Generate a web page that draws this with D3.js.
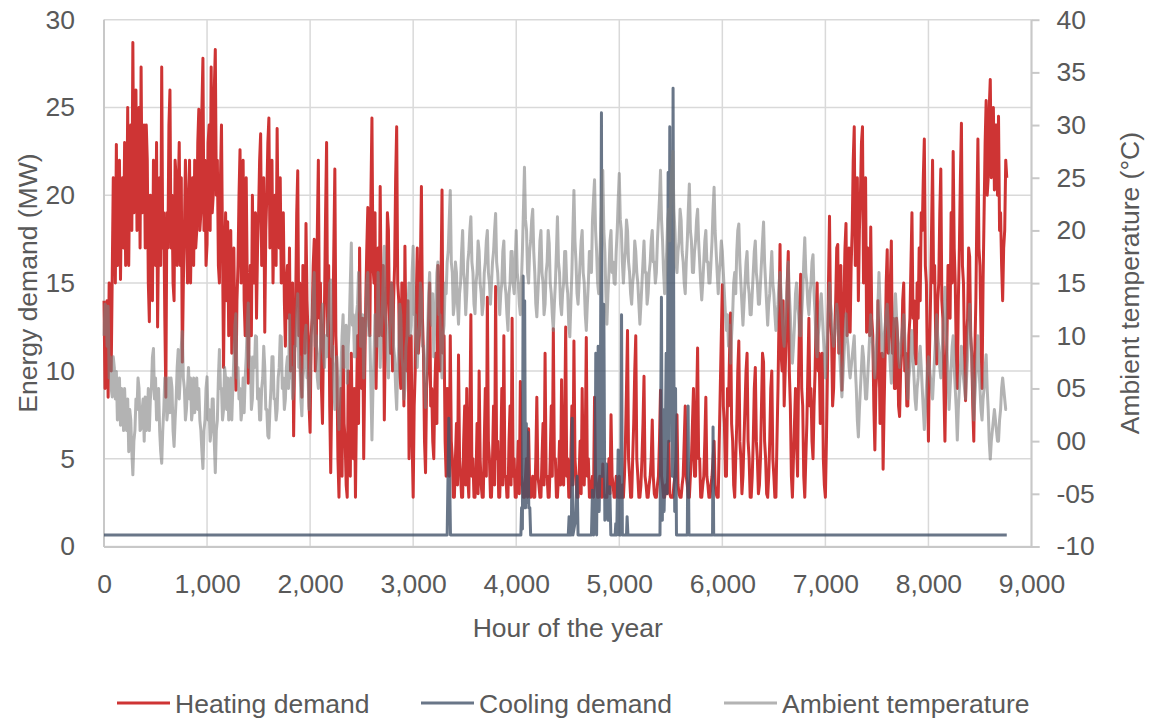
<!DOCTYPE html>
<html><head><meta charset="utf-8">
<script src="https://cdn.jsdelivr.net/npm/d3@7"></script>
<style>
body{margin:0;background:#fff;}
text{font-family:"Liberation Sans",Arial,sans-serif;fill:#595959;}
</style>
</head><body>
<svg id="chart" width="1150" height="720"></svg>
<script>
// ---- data ----
const hourStep = 10; // heating & temperature sampled every 10 h, from hour 0 to 8760 (one line = 200 h)
const heatingDemand = [
  14, 9, 11, 14, 8.5, 15, 13, 10, 15.5, 21, 20, 15, 22.9, 16, 17, 22, 15.2, 20, 21, 17,
  23, 16, 18, 25, 16, 22, 24, 18, 28.7, 19, 21, 26, 18, 23, 25, 17, 27.3, 19, 20, 24,
  17, 24, 22, 15, 12.8, 20, 19, 14, 22, 18, 16, 23, 12.5, 18, 21, 16, 27.3, 17, 19, 13,
  8.5, 19, 17, 24, 26, 17, 20, 15, 14, 22, 21, 16, 20, 23, 16, 21, 10.5, 15, 18, 22,
  20, 15, 16, 22, 15, 19, 21, 16, 22, 17, 18, 23, 24.9, 18, 19, 25, 27.8, 18, 22, 16,
  17.2, 23, 24, 18, 27.3, 19, 20, 26, 28.3, 20, 22, 16, 15, 21, 24, 17, 10.2, 16, 19, 14,
  18.5, 12, 14, 18, 11, 16, 17, 12, 8.9, 14, 16, 20, 22.6, 15, 17, 22, 14, 12, 21, 15,
  9.3, 14, 16, 12, 20, 15, 15, 19, 13, 17, 19, 22, 23.5, 16, 17, 21, 12.2, 18, 20, 23,
  24.4, 17, 18, 22, 15, 19, 20, 16, 23.8, 18, 17, 21, 15, 18, 19, 14, 11.4, 15, 16, 13,
  17, 10, 12, 15, 6.3, 11, 14, 19, 21.4, 12, 15, 10, 8.5, 16, 15, 11, 18.4, 14, 12, 8,
  6.5, 12, 13, 16, 17.5, 10, 11, 18, 22, 13, 15, 9, 7, 12, 14, 19, 23, 12, 16, 8,
  4.2, 9, 12, 17, 21.5, 12, 10, 5, 2.8, 7, 9, 4, 11.4, 7, 6, 3.5, 2.8, 10, 8, 4,
  11, 6, 5, 9, 2.8, 8, 12, 7, 17, 11, 9, 13, 5, 10, 14, 17, 19.3, 13, 12, 20,
  24.4, 16, 15, 19, 9, 13, 17, 12, 20.5, 14, 12, 16, 7.2, 12, 14, 19, 18, 13, 11, 15,
  10, 14, 16, 21, 23.9, 15, 14, 10, 9, 15, 13, 8, 17.1, 12, 10, 14, 5, 9, 12, 6,
  2.8, 8, 10, 14, 17, 11, 12, 16, 20.5, 13, 11, 6, 4.2, 9, 10, 13, 15, 8, 9, 6,
  5, 9, 11, 7, 16, 12, 10, 15, 20.3, 11, 12, 6, 4, 9, 8, 4, 12, 6, 5, 2.8,
  2.8, 5, 7, 3.5, 10.9, 5, 4, 2.8, 2.8, 6, 8, 3.5, 9, 4, 2.8, 7, 13.2, 4, 5, 2.8,
  2.8, 4, 7, 3, 10, 5, 3.5, 2.8, 2.8, 6, 9, 4, 14.2, 6, 5, 2.8, 2.8, 5, 8, 3.5,
  14.8, 5, 6, 2.8, 2.8, 5, 9, 3.5, 12, 4, 4, 2.8, 2.8, 6, 8, 3.5, 13, 4, 5, 2.8,
  2.8, 4, 6, 3, 9.4, 4, 3.5, 2.8, 2.8, 4, 5, 2.8, 6.7, 3.5, 2.8, 3.5, 4, 2.8, 2.8, 5,
  8.5, 4, 3.5, 2.8, 2.8, 5, 7, 3.5, 11, 4, 4, 2.8, 2.8, 5, 8, 4, 12.4, 5, 5, 2.8,
  2.8, 4, 6, 3.5, 9.5, 4, 3.5, 7, 12.5, 4, 5, 2.8, 2.8, 5, 8, 3.5, 11.7, 5, 4, 2.8,
  2.8, 4, 6, 3, 9, 4, 3.5, 6, 11.9, 4, 5, 2.8, 2.8, 3.5, 4, 2.8, 8.5, 4, 3.5, 2.8,
  2.8, 4, 3.5, 2.8, 4.7, 3, 2.8, 2.8, 2.8, 4, 5, 3, 7.5, 4, 3.5, 2.8, 2.8, 4, 3, 2.8,
  4, 2.8, 2.8, 3.5, 2.8, 4, 6, 9, 12.3, 5, 4, 2.8, 2.8, 5, 7, 10, 12, 5, 4, 2.8,
  2.8, 3.5, 5, 7, 9.7, 4, 3.5, 2.8, 2.8, 3.5, 4, 5, 7.2, 4, 3, 2.8, 2.8, 3.5, 4, 6,
  8.9, 4, 3.5, 2.8, 2.8, 3.5, 3, 4, 6, 3, 2.8, 2.8, 2.8, 3.5, 4, 5, 7.5, 3.5, 3, 2.8,
  2.8, 3.5, 4, 6, 8, 4, 3.5, 2.8, 2.8, 4, 5, 7, 9, 4, 4, 8, 11.3, 5, 5, 2.8,
  2.8, 3.5, 4, 6, 8.5, 4, 3.5, 2.8, 2.8, 3.5, 4, 5, 6, 3.5, 3, 2.8, 2.8, 6, 9, 12,
  14.9, 8, 7, 4, 4, 9, 8, 11, 13.3, 7, 6, 3.5, 2.8, 5, 7, 10, 11.7, 6, 5, 3,
  4, 6, 8, 10, 11, 6, 5, 2.8, 2.8, 4, 6, 9, 10.2, 6, 5, 3, 3.5, 5, 8, 11,
  10.5, 6, 5, 3, 2.8, 4, 6, 9, 10, 5, 4, 2.8, 2.8, 6, 9, 13, 17.2, 11, 10, 14,
  8, 10, 12, 15, 16.8, 10, 8, 4, 2.8, 5, 7, 9, 6, 4, 10, 13, 15.5, 9, 8, 4,
  2.8, 5, 7, 10, 13, 8, 9, 6, 5, 8, 10, 13, 15, 10, 11, 7, 8, 11, 5, 3.5,
  2.8, 6, 10, 15, 18.8, 13, 12, 8, 9, 12, 14, 17, 17.2, 11, 12, 16, 8.9, 12, 14, 17,
  18.4, 12, 13, 17, 12.2, 16, 18, 22, 23.9, 16, 17, 21, 14, 18, 20, 23, 23.9, 15, 17, 21,
  12.2, 17, 16, 12, 18.2, 13, 12, 8, 5.5, 9, 10, 14, 12, 7, 8, 11, 4.4, 8, 11, 15,
  16.9, 11, 12, 15, 17.4, 11, 13, 9, 9, 13, 12, 8, 7.4, 10, 11, 14, 15, 10, 11, 8,
  8, 12, 13, 16, 19, 13, 14, 11, 10.4, 15, 13, 17, 14, 19, 18, 21, 23.2, 16, 15, 10,
  6, 11, 14, 18, 22, 15, 16, 12, 10.4, 14, 15, 19, 21.5, 14, 13, 9, 6, 10, 12, 16,
  16, 13, 19, 15, 22.5, 17, 15, 11, 9, 14, 17, 21, 24.1, 16, 15, 11, 8.3, 12, 13, 17,
  16.5, 12, 11, 8, 6, 11, 14, 19, 23.2, 17, 16, 12, 9, 15, 19, 23, 25.4, 20, 21, 25,
  26.6, 21, 22, 25, 20.3, 24, 24, 20, 24.5, 18, 19, 16, 14, 17, 18, 22, 21
];
const ambientTemperature = [
  10, 13, 12.8, 9, 12.8, 6, 8, 5, 4.2, 8, 7, 4, 6.6, 2, 3, 6, 1.5, 5, 4, 1,
  5, 2, 1, 4, -1, 3, 2, -1, -3.2, 0, 1, 4, 3, 6, 5, 1, 1.2, 3, 4, 0,
  4.2, 1, 2, 5, 1, 4, 5, 8, 8.8, 4, 6, 2, 3, 5, 1, -1, -2.1, 1, 3, 6,
  6, 2, 3, 6, 2.7, 6, 5, 1, -0.5, 2, 4, 7, 8.7, 4, 6, 9, 10.4, 6, 5, 2,
  3, 5, 7, 4, 6, 2, 3, 6, 2.7, 5, 6, 3, 5, 2, 1, -1, -2.6, 1, 2, 5,
  6.1, 2, 3, 0, 1, 4, 4, 0, -3, 1, 2, 6, 8.7, 5, 5, 2, 3, 7, 6, 3,
  6, 2, 3, 6, 2, 5, 8, 11, 12.1, 6, 7, 4, 5, 2, 3, 6, 2.7, 6, 8, 11,
  13.1, 7, 8, 3, 4, 8, 7, 10, 9.9, 4, 5, 2, 2, 5, 6, 9, 7, 3, 3, 0.5,
  0.3, 3, 5, 8, 8, 4, 4, 2, 3, 6, 7, 10, 9.9, 5, 6, 3, 4, 7, 8, 5,
  12, 6, 7, 4, 5, 9, 9, 12, 14, 7, 8, 4, 2.4, 6, 7, 10, 11, 6, 6, 3,
  6, 9, 11, 14, 16, 9, 10, 6, 5, 8, 9, 12, 13, 8, 7, 10, 8, 11, 12, 15,
  15.3, 8, 9, 5, 3, 7, 8, 4, 1.1, 5, 7, 10, 12, 7, 8, 11, 5.5, 9, 11, 15,
  18.8, 11, 12, 8, 8, 12, 13, 16, 14, 9, 9, 12, 6, 10, 11, 15, 16, 10, 10, 5,
  0.1, 5, 8, 12, 12, 9, 16, 11, 7, 10, 12, 16, 18.5, 12, 11, 8, 6, 10, 12, 15,
  14, 9, 8, 5, 3, 7, 9, 13, 12, 8, 7, 4, 5, 9, 10, 13, 15, 10, 11, 16,
  18.5, 12, 12, 9, 7, 10, 11, 15, 14, 9, 9, 6, 3.2, 7, 10, 14, 16, 12, 11, 14,
  8, 11, 13, 16, 17, 12, 12, 8, 6, 10, 11, 15, 14, 17, 18, 21, 23.8, 17, 16, 12,
  13, 17, 16, 13, 11.1, 14, 15, 18, 20, 16, 15, 12, 14, 17, 18, 20, 21.3, 17, 16, 13,
  12.1, 15, 16, 19, 18, 15, 14, 12, 13, 16, 17, 19, 20, 16, 15, 13, 15, 17, 18, 20,
  21.6, 17, 16, 14, 12, 14, 15, 18, 19, 15, 14, 12, 10.5, 14, 15, 18, 18, 15, 14, 17,
  20, 16, 15, 13, 12, 15, 18, 22, 26, 21, 20, 16, 15, 18, 19, 21, 22, 18, 16, 13,
  11.8, 14, 16, 19, 20, 16, 15, 12, 13, 16, 17, 20, 18.8, 15, 14, 12, 10.5, 13, 15, 18,
  21.3, 17, 16, 13, 12, 14, 15, 18, 18, 15, 14, 11, 9.9, 13, 16, 20, 23.8, 19, 17, 14,
  13, 15, 17, 19, 20, 16, 15, 12, 10.5, 13, 15, 18, 18, 16, 21, 23, 24.8, 20, 18, 15,
  14, 17, 20, 23, 25.7, 20, 18, 14, 11.1, 14, 16, 19, 20, 16, 17, 15, 14.9, 18, 20, 23,
  25.4, 21, 20, 17, 15, 17, 18, 21, 20, 17, 16, 14, 13, 15, 16, 19, 18, 16, 15, 13,
  11.1, 13, 15, 17, 19, 16, 16, 13, 14, 16, 17, 19, 20, 17, 17, 15, 16, 19, 21, 23,
  25.7, 21, 19, 16, 14, 16, 18, 21, 22, 19, 24, 26, 27.5, 22, 20, 17, 16, 18, 19, 22,
  21, 18, 17, 15, 14, 17, 19, 22, 24.4, 20, 19, 16, 16, 18, 19, 21, 22, 19, 17, 15,
  13.4, 15, 17, 19, 20, 17, 17, 15, 15, 17, 19, 22, 24.1, 20, 18, 16, 14, 16, 17, 19,
  18, 16, 14, 12, 10.5, 12, 9, 11, 7.4, 10, 12, 15, 16, 14, 18, 20, 20.6, 17, 15, 13,
  11, 13, 15, 17, 18, 15, 14, 12, 12, 14, 16, 18, 19, 16, 15, 13, 13, 15, 17, 19,
  20.8, 17, 15, 13, 11, 13, 14, 16, 18, 15, 14, 12, 10.5, 12, 13, 15, 16, 14, 12, 10,
  9, 11, 13, 15, 17, 14, 12, 9, 7.4, 9, 11, 14, 15, 13, 12, 10, 10, 12, 14, 17,
  19.3, 16, 15, 13, 12, 14, 15, 17, 17.7, 14, 12, 9, 8, 10, 11, 13, 14, 12, 10, 8,
  6, 8, 10, 13, 15, 13, 12, 10, 9, 10, 11, 13, 12, 10, 8, 6, 4.2, 6, 8, 10,
  12.1, 10, 9, 7, 6, 7, 8, 9, 10, 7, 5, 2, 0.4, 3, 5, 7, 9, 8, 6, 4,
  4, 6, 8, 10, 12, 10, 9, 7, 6, 8, 10, 13, 16, 13, 11, 9, 8, 10, 11, 12,
  13, 11, 9, 7, 5.5, 8, 10, 12, 14, 12, 10, 8, 7, 9, 10, 11, 12, 10, 8, 6,
  4, 6, 7, 9, 10.5, 8, 6, 4, 3, 5, 6, 8, 9, 7, 5, 3, 1.1, 3, 5, 7,
  8, 7, 6, 5, 4, 6, 8, 10, 12, 10, 9, 7, 6, 8, 10, 12, 14.6, 11, 9, 6,
  3, 5, 7, 9, 10, 7, 5, 3, 0.1, 3, 5, 7, 9, 7, 6, 5, 4, 6, 8, 11,
  13, 10, 8, 5, 2, 4, 6, 8, 10, 7, 5, 3, 2, 4, 5, 7, 8.2, 5, 3, 0,
  -1.7, 0, 1, 2, 3, 2, 1, 0, 0, 2, 3, 5, 6, 5, 4, 3, 3
];
const coolingHours = [
  0, 3330, 3346, 3362,
  4045, 4052, 4060, 4067, 4074, 4082, 4090, 4098, 4106, 4114, 4122, 4132, 4140,
  4505, 4513, 4520, 4535, 4543, 4550, 4575, 4591, 4600,
  4730, 4740, 4750, 4765, 4772, 4780, 4795, 4805, 4815, 4827, 4835, 4850, 4860, 4876, 4890, 4908, 4918,
  4960, 4966, 4975, 4989, 4998, 5015, 5022, 5030, 5070, 5076, 5084,
  5395, 5409, 5418, 5425, 5435, 5445, 5455, 5465, 5474, 5482, 5490, 5498, 5506, 5514, 5522, 5530, 5538, 5546, 5555,
  5660, 5668, 5676,
  5905, 5910, 5916,
  8760
];
const coolingDemand = [
  0.65, 0.65, 7.3, 0.65,
  0.65, 2.2, 1.0, 15.4, 2.2, 14.0, 2.2, 7, 2.5, 6.5, 2.2, 2.2, 0.65,
  0.65, 1.7, 0.65, 0.65, 7.3, 0.65, 1.5, 4.0, 0.65,
  0.65, 3.2, 0.65, 2, 11.0, 0.65, 11.4, 2, 6, 24.7, 4, 13.8, 1.5, 4.7, 1.5, 3.4, 0.65,
  0.65, 1.3, 0.65, 5.5, 0.65, 0.65, 13.2, 0.65, 0.65, 1.7, 0.65,
  0.65, 14.2, 1.5, 7.8, 2, 5, 11, 3, 21.3, 6, 23.9, 8, 15, 4, 26.1, 10, 2, 9, 0.65,
  0.65, 8.0, 0.65,
  0.65, 6.8, 0.65,
  0.65
];
const xTicks = [0, 1000, 2000, 3000, 4000, 5000, 6000, 7000, 8000, 9000];
const yLeftTicks = [0, 5, 10, 15, 20, 25, 30];
const yRightTicks = [-10, -5, 0, 5, 10, 15, 20, 25, 30, 35, 40];
const seriesNames = ["Heating demand", "Cooling demand", "Ambient temperature"];
const axisTitles = {x: "Hour of the year", yLeft: "Energy demand (MW)", yRight: "Ambient temperature (°C)"};

// ---- drawing ----
const svg = d3.select("#chart");
const L = 104, R = 1031.5, T = 19.7, B = 546.5;
const FS = 26.5;
const FF = "Liberation Sans, Arial, sans-serif";
const SW = 3;
const x = d3.scaleLinear().domain([0, 9000]).range([L, R]);
const yL = d3.scaleLinear().domain([0, 30]).range([B, T]);
const yR = d3.scaleLinear().domain([-10, 40]).range([B, T]);

const colHeat = "#ce3434", colCool = "#44546a", colTemp = "#808080";

// gridlines
const g = svg.append("g");
g.selectAll(".hg").data(yLeftTicks).join("line")
  .attr("x1", L).attr("x2", R).attr("y1", d => yL(d)).attr("y2", d => yL(d))
  .attr("stroke", "#d9d9d9").attr("stroke-width", 1.5);
g.selectAll(".vg").data(xTicks).join("line")
  .attr("x1", d => x(d)).attr("x2", d => x(d)).attr("y1", T).attr("y2", B)
  .attr("stroke", "#d9d9d9").attr("stroke-width", 1.5);

// axes lines
svg.append("line").attr("x1", L).attr("x2", L).attr("y1", T).attr("y2", B + 0.5)
  .attr("stroke", "#c8c8c8").attr("stroke-width", 2);
svg.append("line").attr("x1", L).attr("x2", R + 8).attr("y1", B + 0.5).attr("y2", B + 0.5)
  .attr("stroke", "#c8c8c8").attr("stroke-width", 2);

// right axis
const pad2 = v => (v < 0 ? "-" : "") + String(Math.abs(v)).padStart(2, "0");
const rAxis = svg.append("g").attr("transform", `translate(${R},0)`)
  .call(d3.axisRight(yR).tickValues(yRightTicks).tickFormat(pad2).tickSize(8).tickPadding(17));
rAxis.select(".domain").attr("stroke", "#c8c8c8").attr("stroke-width", 2).attr("d", `M0,${T}V${B + 0.5}`);
rAxis.selectAll(".tick line").attr("stroke", "#c8c8c8").attr("stroke-width", 2);
rAxis.selectAll(".tick text").attr("font-size", FS).attr("fill", "#595959").attr("font-family", FF);

// left axis
const lAxis = svg.append("g").attr("transform", `translate(${L},0)`)
  .call(d3.axisLeft(yL).tickValues(yLeftTicks).tickSize(0).tickPadding(29));
lAxis.select(".domain").remove();
lAxis.selectAll(".tick text").attr("font-size", FS).attr("fill", "#595959").attr("font-family", FF);

// bottom axis
const bAxis = svg.append("g").attr("transform", `translate(0,${B})`)
  .call(d3.axisBottom(x).tickValues(xTicks).tickFormat(d3.format(",")).tickSize(0).tickPadding(28));
bAxis.select(".domain").remove();
bAxis.selectAll(".tick text").attr("font-size", FS).attr("fill", "#595959").attr("font-family", FF);

// series
const heatPts = heatingDemand.map((v, i) => [i * hourStep, v]);
const tempPts = ambientTemperature.map((v, i) => [i * hourStep, v]);
const coolPts = coolingHours.map((h, i) => [h, coolingDemand[i]]);

const lineL = d3.line().x(d => x(d[0])).y(d => yL(d[1]));
const lineR = d3.line().x(d => x(d[0])).y(d => yR(d[1]));

svg.append("path").datum(heatPts).attr("d", lineL).attr("fill", "none")
  .attr("stroke", colHeat).attr("stroke-width", SW).attr("stroke-linejoin", "round");
svg.append("path").datum(coolPts).attr("d", lineL).attr("fill", "none")
  .attr("stroke", colCool).attr("stroke-opacity", 0.8).attr("stroke-width", SW).attr("stroke-linejoin", "round");
svg.append("path").datum(tempPts).attr("d", lineR).attr("fill", "none")
  .attr("stroke", colTemp).attr("stroke-opacity", 0.6).attr("stroke-width", SW).attr("stroke-linejoin", "round");

// axis titles
svg.append("text").attr("x", (L + R) / 2).attr("y", 637).attr("text-anchor", "middle")
  .attr("font-size", FS).text(axisTitles.x);
svg.append("text").attr("transform", `translate(37,${(T + B) / 2}) rotate(-90)`).attr("text-anchor", "middle")
  .attr("font-size", FS).text(axisTitles.yLeft);
svg.append("text").attr("transform", `translate(1139,${(T + B) / 2}) rotate(-90)`).attr("text-anchor", "middle")
  .attr("font-size", FS).text(axisTitles.yRight);

// legend
const legendX = [117, 421, 724];
const legendColors = [{c: colHeat, o: 1}, {c: colCool, o: 0.8}, {c: colTemp, o: 0.6}];
const lg = svg.append("g");
seriesNames.forEach((name, i) => {
  lg.append("line").attr("x1", legendX[i]).attr("x2", legendX[i] + 53).attr("y1", 703).attr("y2", 703)
    .attr("stroke", legendColors[i].c).attr("stroke-opacity", legendColors[i].o).attr("stroke-width", 3);
  lg.append("text").attr("x", legendX[i] + 58).attr("y", 713).attr("font-size", FS).text(name);
});
</script>
</body></html>
